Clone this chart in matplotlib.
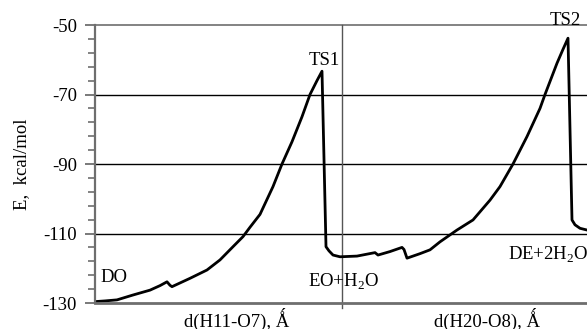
import numpy as np
import matplotlib.pyplot as plt
from matplotlib.ticker import FixedLocator

plt.rcParams['font.family'] = ['Liberation Serif', 'DejaVu Serif']
plt.rcParams['mathtext.fontset'] = 'custom'
plt.rcParams['mathtext.rm'] = 'Liberation Serif'
plt.rcParams['axes.unicode_minus'] = False

# Координата реакції (умовні одиниці) та енергія, ккал/моль
coord = [0, 10, 22, 38, 55, 65, 72, 75, 77, 95, 112, 125, 138, 148, 155, 165,
         178, 187, 197, 207, 215, 222, 227, 231, 234, 238, 245, 262, 280, 283,
         295, 307, 309, 312, 325, 335, 345, 362, 378, 395, 405, 418, 432, 445,
         450, 462, 468, 473, 477, 480, 485, 492]
energy = [-129.6, -129.4, -129.1, -127.7, -126.3, -125.0, -123.9, -124.9, -125.3,
          -122.9, -120.5, -117.6, -113.8, -110.9, -108.2, -104.5, -96.5, -90.0,
          -83.6, -76.4, -70.0, -66.0, -63.3, -113.8, -115.0, -116.2, -116.7,
          -116.5, -115.5, -116.2, -115.2, -114.0, -114.6, -117.1, -115.8, -114.7,
          -112.4, -109.0, -106.1, -100.4, -96.5, -90.0, -82.1, -74.0, -70.0,
          -61.0, -57.0, -53.8, -106.1, -107.5, -108.5, -109.0]

# Підписи точок: (текст, x, y, вирівнювання)
labels = [("TS1", 245, -60.1, 'right'),
          ("TS2", 455, -48.6, 'left'),
          ("DO", 5, -122.8, 'left'),
          ("EO+H$_2$O", 213, -124.0, 'left'),
          ("DE+2H$_2$O", 413, -116.2, 'left')]
divider = 247
yticks = [-130, -110, -90, -70, -50]
xlabels = [("d(H11-O7), Ǻ", 237), ("d(H20-O8), Ǻ", 487)]

fig = plt.figure(figsize=(5.87, 3.29), dpi=100)
ax = fig.add_axes([95/587, 1 - 303/329, 492/587, 278/329])

ax.plot(coord, energy, color='black', lw=2.0, solid_joinstyle='round')
ax.set_xlim(0, 492)
ax.set_ylim(-130, -50)

for yv in [-70, -90, -110]:
    ax.axhline(yv, color='black', lw=1.0, zorder=0)
ax.axhline(-50, color='#7a7a7a', lw=1.3, zorder=0, clip_on=False)
ax.plot([divider, divider], [-50, -131.5], color='#555555', lw=1.0,
        clip_on=False, zorder=0)

ax.spines['right'].set_visible(False)
ax.spines['top'].set_visible(False)
ax.spines['left'].set_color('#6e6e6e')
ax.spines['left'].set_linewidth(1.6)
ax.spines['bottom'].set_color('#6e6e6e')
ax.spines['bottom'].set_linewidth(2.0)

ax.set_yticks(yticks)
ax.yaxis.set_minor_locator(FixedLocator(np.arange(-130, -49, 4)))
ax.tick_params(axis='y', which='major', direction='out', length=7, width=1.3,
               color='#6e6e6e', labelsize=13.5, pad=6)
ax.tick_params(axis='y', which='minor', direction='out', length=5, width=1.2,
               color='#6e6e6e')
ax.set_xticks([])

ax.set_ylabel('E,  kcal/mol', fontsize=13.5, labelpad=9)

for txt, x, y, ha in labels:
    ax.text(x, y, txt, ha=ha, va='center', fontsize=13.5, clip_on=False)

for txt, px in xlabels:
    fig.text(px/587, 1 - 319/329, txt, ha='center', va='center', fontsize=13.5)

fig.savefig('out.png', dpi=100)
